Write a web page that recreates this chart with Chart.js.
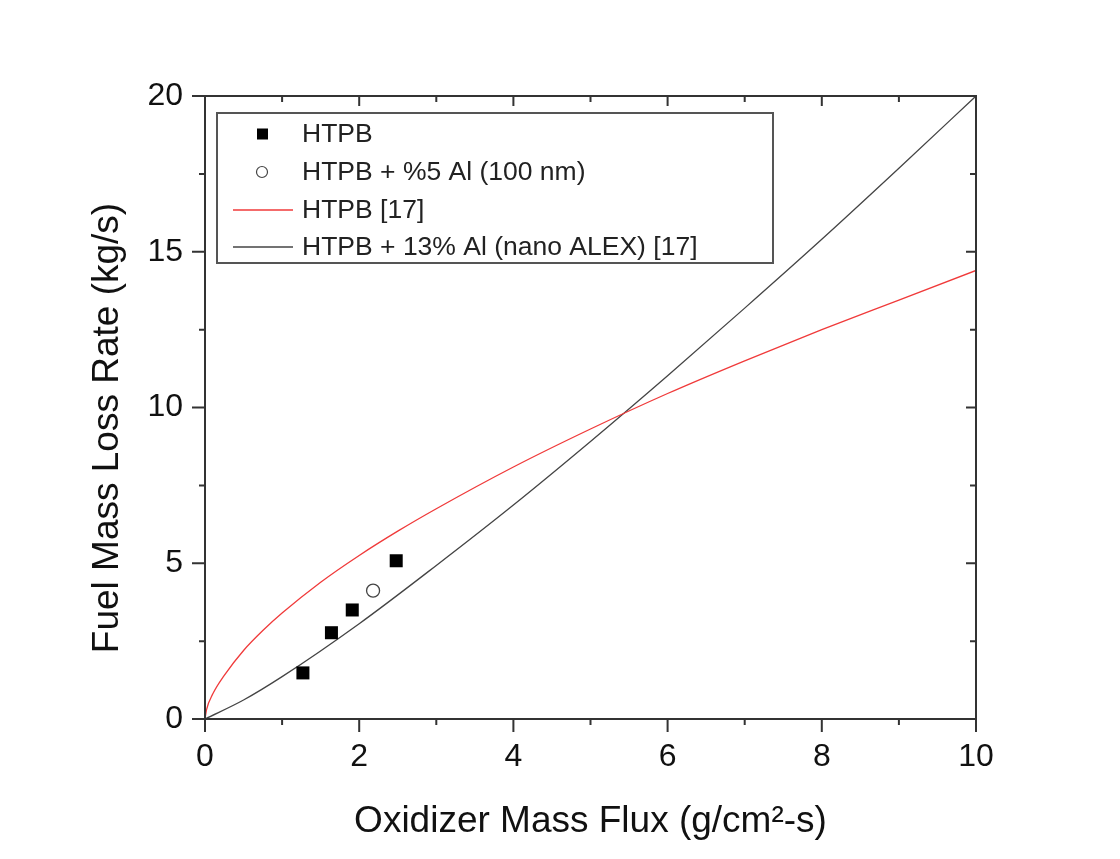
<!DOCTYPE html>
<html>
<head>
<meta charset="utf-8">
<script src="https://cdn.jsdelivr.net/npm/chart.js@4.4.1/dist/chart.umd.min.js"></script>
<style>
  html, body { margin: 0; padding: 0; background: #fff; }
  #wrap { width: 1120px; height: 859px; }
</style>
</head>
<body>
<div id="wrap"><canvas id="fluxChart" width="1120" height="859"></canvas></div>
<script>
// measured points
const htpbFlux = [1.27, 1.64, 1.91, 2.48];
const htpbRate = [1.48, 2.77, 3.50, 5.08];
const alFlux = [2.18];
const alRate = [4.12];

// reference curves [17]
const refHtpbFlux = [0, 0.02, 0.1, 0.25, 0.5, 0.75, 1, 1.5, 2, 2.5, 3, 4, 5, 6, 7, 8, 9, 10];
const refHtpbRate = [0, 0.30, 0.80, 1.40, 2.20, 2.84, 3.40, 4.39, 5.25, 6.03, 6.75, 8.09, 9.31, 10.45, 11.5, 12.5, 13.45, 14.4];
const refAlexFlux = [0, 0.5, 1, 2, 3, 4, 5, 6, 7, 8, 9, 10];
const refAlexRate = [0, 0.61, 1.36, 3.06, 4.93, 6.87, 8.91, 11.02, 13.19, 15.4, 17.68, 20];

const xTicks = [0, 2, 4, 6, 8, 10];
const yTicks = [0, 5, 10, 15, 20];

const legendLabels = ['HTPB', 'HTPB + %5 Al (100 nm)', 'HTPB [17]', 'HTPB + 13% Al (nano ALEX) [17]'];
const yTitle = 'Fuel Mass Loss Rate (kg/s)';

const toPts = (xs, ys) => xs.map((x, i) => ({ x: x, y: ys[i] }));

const axisColor = '#333';
const fontFam = '"Liberation Sans", Arial, sans-serif';

// frame, minor ticks, mirrored inward ticks, y title
const framePlugin = {
  id: 'frame',
  afterDraw(chart) {
    const { ctx, chartArea: a, scales } = chart;
    const xs = scales.x, ys = scales.y;
    ctx.save();
    ctx.strokeStyle = axisColor;
    ctx.lineWidth = 2;
    ctx.strokeRect(a.left, a.top, a.right - a.left, a.bottom - a.top);
    ctx.beginPath();
    for (let v = 0; v <= 10; v += 1) {
      const px = xs.getPixelForValue(v);
      const major = v % 2 === 0;
      ctx.moveTo(px, a.bottom);
      ctx.lineTo(px, a.bottom + (major ? 13 : 6));
      if (v > 0 && v < 10) {
        ctx.moveTo(px, a.top);
        ctx.lineTo(px, a.top + (major ? 10 : 6));
      }
    }
    for (let v = 0; v <= 20; v += 2.5) {
      const py = ys.getPixelForValue(v);
      const major = v % 5 === 0;
      ctx.moveTo(a.left, py);
      ctx.lineTo(a.left - (major ? 13 : 6), py);
      if (v > 0 && v < 20) {
        ctx.moveTo(a.right, py);
        ctx.lineTo(a.right - (major ? 10 : 6), py);
      }
    }
    ctx.stroke();

    // y axis title, sits a bit below the plot centre in the original
    ctx.translate(108, 428);
    ctx.rotate(-Math.PI / 2);
    ctx.fillStyle = '#111';
    ctx.font = '37px ' + fontFam;
    ctx.textAlign = 'center';
    ctx.textBaseline = 'middle';
    ctx.fillText(yTitle, 0, 0);
    ctx.restore();
  }
};

// legend box drawn inside the plot, like the original
const boxLegendPlugin = {
  id: 'boxLegend',
  afterDraw(chart) {
    const { ctx } = chart;
    const left = 217, top = 113, w = 556, h = 150;
    ctx.save();
    ctx.fillStyle = '#fff';
    ctx.fillRect(left, top, w, h);
    ctx.strokeStyle = '#555';
    ctx.lineWidth = 2;
    ctx.strokeRect(left, top, w, h);
    ctx.font = '26.5px ' + fontFam;
    ctx.textBaseline = 'middle';
    const rows = [134, 172, 210, 247];
    chart.data.datasets.forEach((ds, i) => {
      const y = rows[i];
      if (ds.showLine) {
        ctx.strokeStyle = ds.borderColor;
        ctx.lineWidth = ds.borderWidth;
        ctx.beginPath();
        ctx.moveTo(233, y);
        ctx.lineTo(293, y);
        ctx.stroke();
      } else if (ds.pointStyle === 'rect') {
        ctx.fillStyle = ds.backgroundColor;
        ctx.fillRect(257, y - 5.5, 11, 11);
      } else {
        ctx.strokeStyle = ds.borderColor;
        ctx.lineWidth = 1.2;
        ctx.beginPath();
        ctx.arc(262, y, 5.5, 0, Math.PI * 2);
        ctx.stroke();
      }
      ctx.fillStyle = '#222';
      ctx.fillText(ds.label, 302, y + 1);
    });
    ctx.restore();
  }
};

new Chart(document.getElementById('fluxChart').getContext('2d'), {
  type: 'scatter',
  data: {
    datasets: [
      {
        label: legendLabels[0],
        data: toPts(htpbFlux, htpbRate),
        pointStyle: 'rect',
        pointRadius: 9.2,
        backgroundColor: '#000',
        borderColor: '#000',
        borderWidth: 0,
        showLine: false,
      },
      {
        label: legendLabels[1],
        data: toPts(alFlux, alRate),
        pointStyle: 'circle',
        pointRadius: 6.5,
        backgroundColor: '#fff',
        borderColor: '#444',
        borderWidth: 1.3,
        showLine: false,
      },
      {
        label: legendLabels[2],
        data: toPts(refHtpbFlux, refHtpbRate),
        showLine: true,
        pointRadius: 0,
        borderColor: '#f03a3a',
        borderWidth: 1.3,
        cubicInterpolationMode: 'monotone',
      },
      {
        label: legendLabels[3],
        data: toPts(refAlexFlux, refAlexRate),
        showLine: true,
        pointRadius: 0,
        borderColor: '#444',
        borderWidth: 1.3,
        cubicInterpolationMode: 'monotone',
      },
    ],
  },
  options: {
    responsive: false,
    animation: false,
    devicePixelRatio: 1,
    layout: { padding: { left: 0, top: 96, right: 144, bottom: 15 } },
    plugins: {
      legend: { display: false },
      tooltip: { enabled: false },
    },
    scales: {
      x: {
        type: 'linear',
        min: 0,
        max: 10,
        afterBuildTicks: (s) => { s.ticks = xTicks.map(v => ({ value: v })); },
        afterFit: (s) => { s.height = 125; },
        grid: { display: false, drawTicks: false },
        border: { display: false },
        ticks: { color: '#111', font: { family: fontFam, size: 32 }, padding: 19, maxRotation: 0 },
        title: {
          display: true,
          text: 'Oxidizer Mass Flux (g/cm\u00b2-s)',
          color: '#111',
          font: { family: fontFam, size: 37 },
          padding: { top: 0, bottom: 0 },
        },
      },
      y: {
        type: 'linear',
        min: 0,
        max: 20,
        afterBuildTicks: (s) => { s.ticks = yTicks.map(v => ({ value: v })); },
        afterFit: (s) => { s.width = 205; },
        grid: { display: false, drawTicks: false },
        border: { display: false },
        ticks: { color: '#111', font: { family: fontFam, size: 32 }, padding: 22 },
        title: { display: false },
      },
    },
  },
  plugins: [framePlugin, boxLegendPlugin],
});
</script>
</body>
</html>
